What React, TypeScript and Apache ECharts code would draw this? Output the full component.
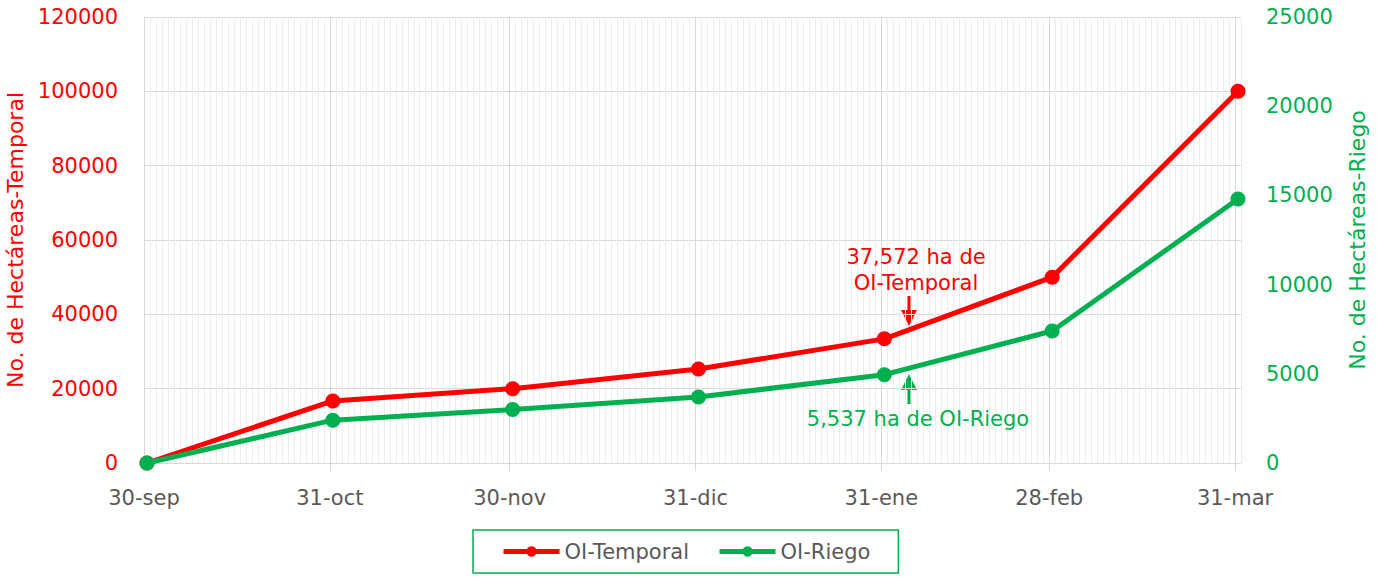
import React, { useEffect, useRef } from "react";
import * as echarts from "echarts";

const dateLabels = ["30-sep", "31-oct", "30-nov", "31-dic", "31-ene", "28-feb", "31-mar"];
const dayOffsets = [0, 31, 61, 92, 123, 151, 182];
const temporal = [0, 16700, 20000, 25300, 33400, 50000, 100000];
const riego = [0, 2400, 3000, 3700, 4950, 7400, 14800];

const RED = "#FF0000";
const GREEN = "#00B050";
const FONT = "DejaVu Sans";

export default function App() {
  const ref = useRef<HTMLDivElement>(null);
  useEffect(() => {
    if (!ref.current) return;
    const chart = echarts.init(ref.current, undefined, { renderer: "svg" });
    const labelFor = (v: number) => {
      const i = dayOffsets.indexOf(v);
      return i >= 0 ? dateLabels[i] : "";
    };
    chart.setOption({
      animation: false,
      backgroundColor: "#ffffff",
      textStyle: { fontFamily: FONT },
      grid: {
        left: 144,
        right: 136,
        top: 17,
        bottom: 116,
        containLabel: false,
        outerBoundsMode: "none",
      },
      legend: {
        left: 473,
        top: 530,
        padding: [11, 28, 11, 28],
        borderColor: GREEN,
        borderWidth: 1.5,
        itemWidth: 56,
        itemHeight: 13,
        itemGap: 28,
        lineStyle: { width: 5 },
        textStyle: { color: "#595959", fontSize: 21, fontFamily: FONT },
        data: ["OI-Temporal", "OI-Riego"],
      },
      xAxis: [
        {
          type: "value",
          min: 0,
          max: 183,
          interval: 1,
          axisLabel: { show: false },
          axisTick: { show: false },
          axisLine: { show: false },
          splitLine: { show: true, lineStyle: { color: "#ececec", width: 1 } },
        },
        {
          type: "value",
          min: 0,
          max: 183,
          position: "bottom",
          axisLine: { show: true, lineStyle: { color: "#d9d9d9", width: 1 } },
          axisTick: { show: true, customValues: dayOffsets, length: 8, lineStyle: { color: "#d9d9d9" } },
          axisLabel: {
            customValues: dayOffsets,
            formatter: (v: number) => labelFor(v),
            color: "#595959",
            fontSize: 21,
            margin: 24,
            fontFamily: FONT,
          },
          splitLine: { show: true, lineStyle: { color: "#d9d9d9", width: 1 } },
        },
      ],
      yAxis: [
        {
          type: "value",
          min: 0,
          max: 120000,
          interval: 20000,
          name: "No. de Hectáreas-Temporal",
          nameLocation: "middle",
          nameGap: 114,
          nameRotate: 90,
          nameTextStyle: { color: RED, fontSize: 22, fontFamily: FONT },
          axisLine: { show: false },
          axisTick: { show: false },
          axisLabel: {
            color: RED,
            fontSize: 21,
            margin: 26,
            fontFamily: FONT,
            formatter: (v: number) => String(v),
          },
          splitLine: { show: true, lineStyle: { color: "#d9d9d9", width: 1 } },
        },
        {
          type: "value",
          min: 0,
          max: 25000,
          interval: 5000,
          position: "right",
          name: "No. de Hectáreas-Riego",
          nameLocation: "middle",
          nameGap: 105,
          nameRotate: 90,
          nameTextStyle: { color: GREEN, fontSize: 22, fontFamily: FONT },
          axisLine: { show: false },
          axisTick: { show: false },
          axisLabel: {
            color: GREEN,
            fontSize: 21,
            margin: 25,
            fontFamily: FONT,
            formatter: (v: number) => String(v),
          },
          splitLine: { show: false },
        },
      ],
      series: [
        {
          name: "OI-Temporal",
          type: "line",
          xAxisIndex: 0,
          yAxisIndex: 0,
          data: dayOffsets.map((d, i) => [d + 0.5, temporal[i]]),
          symbol: "circle",
          symbolSize: 15,
          lineStyle: { color: RED, width: 5 },
          itemStyle: { color: RED },
          z: 3,
        },
        {
          name: "OI-Riego",
          type: "line",
          xAxisIndex: 0,
          yAxisIndex: 1,
          data: dayOffsets.map((d, i) => [d + 0.5, riego[i]]),
          symbol: "circle",
          symbolSize: 15,
          lineStyle: { color: GREEN, width: 5 },
          itemStyle: { color: GREEN },
          z: 4,
        },
      ],
      graphic: [
        {
          type: "text",
          x: 916,
          y: 270,
          z: 100,
          style: {
            text: "37,572 ha de\nOI-Temporal",
            fill: RED,
            fontSize: 21,
            fontFamily: FONT,
            align: "center",
            verticalAlign: "middle",
            lineHeight: 26,
          },
        },
        { type: "line", shape: { x1: 909, y1: 296, x2: 909, y2: 313 }, style: { stroke: RED, lineWidth: 3 } },
        { type: "polygon", shape: { points: [[901, 310], [917, 310], [909, 326]] }, style: { fill: RED } },
        { type: "line", shape: { x1: 909, y1: 404, x2: 909, y2: 387 }, style: { stroke: GREEN, lineWidth: 3 } },
        { type: "polygon", shape: { points: [[901, 390], [917, 390], [909, 374]] }, style: { fill: GREEN } },
        {
          type: "text",
          x: 918,
          y: 419,
          z: 100,
          style: {
            text: "5,537 ha de OI-Riego",
            fill: GREEN,
            fontSize: 21,
            fontFamily: FONT,
            align: "center",
            verticalAlign: "middle",
          },
        },
      ],
    });
    return () => chart.dispose();
  }, []);
  return (
    <div
      ref={ref}
      style={{ position: "fixed", left: 0, top: 0, width: 1377, height: 579 }}
    />
  );
}
